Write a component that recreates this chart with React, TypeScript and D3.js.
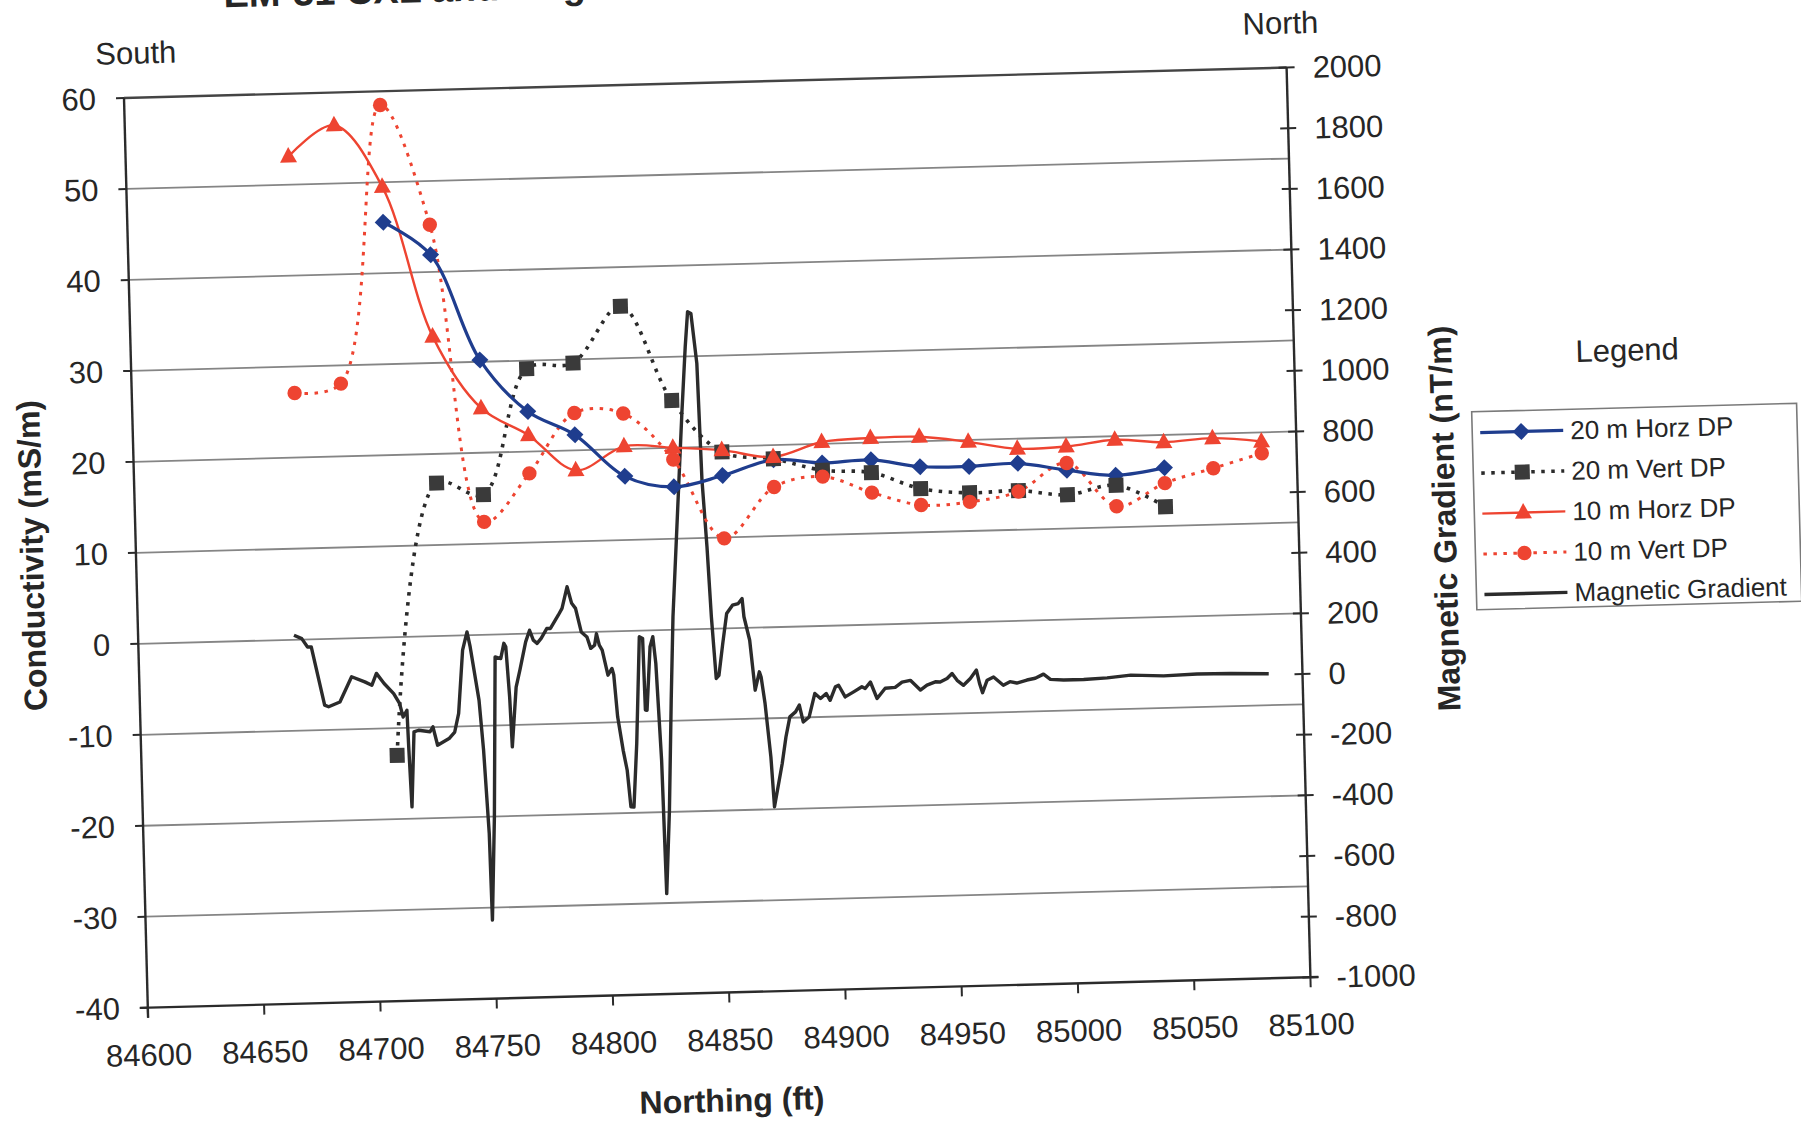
import React from 'react';
import * as d3 from 'd3';

// station positions (Northing, ft) shared by the EM-31 readings
const northing = [84670, 84690, 84710, 84730, 84750, 84770, 84790, 84811, 84832, 84853, 84875, 84896, 84917, 84938, 84959, 84980, 85001, 85022, 85043, 85064, 85085];

// conductivity, mS/m (20 m series start at the third station)
const horz20 = [45.6, 41.9, 30.2, 24.4, 21.7, 17.0, 15.7, 16.8, 18.4, 17.9, 18.1, 17.2, 17.1, 17.3, 16.4, 15.7, 16.4];
const vert20 = [-13.0, 16.8, 15.4, 29.1, 29.6, 35.7, 25.2, 19.4, 18.5, 17.1, 16.7, 14.8, 14.2, 14.3, 13.7, 14.6, 12.1];
const horz10 = [53.1, 56.4, 49.5, 32.9, 24.9, 21.8, 17.8, 20.3, 20.0, 19.6, 18.7, 20.2, 20.5, 20.5, 19.8, 18.9, 19.0, 19.6, 19.2, 19.5, 19.0];
const vert10 = [27.1, 28.0, 58.5, 45.2, 12.4, 17.6, 24.1, 23.9, 18.7, 9.9, 15.4, 16.4, 14.5, 13.0, 13.2, 14.2, 17.2, 12.3, 14.7, 16.2, 17.7];

// magnetic gradient trace, nT/m
const magNorthing = [
  84667.0, 84670.3, 84672.7, 84674.3, 84679.4, 84681.1, 84686.0, 84691.3, 84696.9, 84699.9,
  84702.0, 84705.2, 84709.2, 84711.6, 84713.0, 84714.7, 84715.1, 84715.8, 84717.5, 84719.5,
  84724.4, 84725.7, 84727.5, 84732.5, 84735.0, 84736.9, 84739.3, 84741.4, 84742.6, 84745.8,
  84747.2, 84748.7, 84749.1, 84751.1, 84753.2, 84755.6, 84757.1, 84757.9, 84759.0, 84759.6,
  84761.9, 84763.7, 84766.5, 84768.3, 84769.8, 84771.4, 84773.2, 84775.7, 84777.3, 84780.8,
  84782.5, 84784.9, 84786.7, 84788.3, 84790.5, 84792.9, 84794.4, 84796.1, 84797.0, 84798.1,
  84799.3, 84801.5, 84803.3, 84804.0, 84805.2, 84807.2, 84808.7, 84809.9, 84811.2, 84813.1,
  84815.4, 84816.8, 84817.2, 84817.9, 84819.9, 84821.2, 84822.2, 84823.6, 84824.3, 84826.4,
  84828.4, 84830.1, 84833.2, 84836.2, 84838.4, 84839.8, 84841.2, 84843.2, 84844.1, 84845.5,
  84846.6, 84848.0, 84849.2, 84851.2, 84853.2, 84855.8, 84858.3, 84860.0, 84860.6, 84862.8,
  84864.6, 84866.6, 84867.3, 84868.7, 84870.6, 84871.6, 84875.4, 84877.3, 84879.2, 84881.7,
  84883.4, 84884.9, 84887.5, 84890.2, 84892.6, 84895.1, 84896.7, 84899.1, 84900.5, 84903.2,
  84906.9, 84910.5, 84911.9, 84914.2, 84916.9, 84920.5, 84924.8, 84927.8, 84931.4, 84932.8,
  84935.6, 84938.5, 84942.1, 84944.2, 84947.2, 84949.4, 84951.5, 84954.2, 84957.2, 84959.9,
  84961.1, 84962.3, 84964.4, 84967.2, 84971.3, 84974.2, 84977.1, 84981.5, 84985.1, 84988.7,
  84991.6, 84997.3, 85005.9, 85016.0, 85026.2, 85040.3, 85054.7, 85069.2, 85085.5,
];
const magGradient = [
  215, 203, 175, 175, -18, -24, -9, 73, 55, 43,
  82, 48, 14, -19, -64, -42, -174, -361, -114, -109,
  -115, -99, -160, -139, -118, -57, 151, 211, 161, -15,
  -180, -456, -741, -401, 126, 120, 170, 158, -7, -172,
  25, 80, 173, 211, 178, 167, 183, 215, 215, 258,
  280, 351, 296, 279, 201, 184, 146, 156, 194, 156,
  139, 56, 78, 56, -82, -193, -259, -380, -381, -171,
  180, 174, -62, -63, 146, 179, 91, -229, -669, -394,
  -32, 243, 583, 912, 1132, 1247, 1241, 1076, 691, 470,
  239, 36, 46, 151, 249, 276, 281, 297, 237, 159,
  -6, 54, 37, -51, -227, -392, -250, -163, -97, -81,
  -59, -115, -99, -22, -39, -23, -46, -2, 3, -36,
  -20, -4, -10, 11, -44, -11, -9, 8, 13, 2,
  -20, -4, 6, 5, 16, 32, 9, -8, 14, 41,
  -3, -34, 7, 17, -11, 0, -5, 4, 9, 22,
  4, 1, 1, 4, 11, 6, 9, 8, 4,
];

const xTicks = [84600, 84650, 84700, 84750, 84800, 84850, 84900, 84950, 85000, 85050, 85100];
const leftTicks = [-40, -30, -20, -10, 0, 10, 20, 30, 40, 50, 60];
const rightTicks = [-1000, -800, -600, -400, -200, 0, 200, 400, 600, 800, 1000, 1200, 1400, 1600, 1800, 2000];
const legendLabels = ['20 m Horz DP', '20 m Vert DP', '10 m Horz DP', '10 m Vert DP', 'Magnetic Gradient'];

const W = 1163;
const H = 910;
const BLUE = '#1f3d8e';
const RED = '#ee4431';
const DARK = '#2b2b2b';
const FONT = '"Liberation Sans", Arial, sans-serif';

const diamond = 'M0,-8.5L8.5,0L0,8.5L-8.5,0Z';
const square = 'M-7.5,-7.5H7.5V7.5H-7.5Z';
const triangle = 'M0,-9.5L8.5,6L-8.5,6Z';

const App = () => {
  const x = d3.scaleLinear().domain([84600, 85100]).range([0, W]);
  const yL = d3.scaleLinear().domain([-40, 60]).range([H, 0]);
  const yR = d3.scaleLinear().domain([-1000, 2000]).range([H, 0]);

  const smooth = (xs: number[], ys: number[]) =>
    d3.line<number>()
      .x((_, i) => x(xs[i]))
      .y((d) => yL(d))
      .curve(d3.curveCatmullRom.alpha(0.5))(ys) || '';

  const n20 = northing.slice(2, 19);
  const magPath = d3.line<number>()
    .x((_, i) => x(magNorthing[i]))
    .y((d) => yR(d))(magGradient) || '';

  const txt = { fontFamily: FONT, fill: '#262626' };

  // legend sample rows
  const rowY = (i: number) => 370 + i * 40.5;

  return (
    <svg width={1801} height={1123} style={{ position: 'absolute', left: 0, top: 0, background: '#fff' }}>
      <g transform="translate(124,98) rotate(-1.5)">
        <text x={102} y={-88} style={{ ...txt, fontSize: 38, fontWeight: 700 }}>EM-31 CXL and Mag</text>

        {/* gridlines */}
        {leftTicks.slice(1, -1).map((t) => (
          <line key={t} x1={0} x2={W} y1={yL(t)} y2={yL(t)} stroke="#858585" strokeWidth={1.8} />
        ))}
        <line x1={0} x2={W} y1={0} y2={0} stroke="#444" strokeWidth={2.4} />

        {/* axes */}
        <line x1={0} x2={0} y1={0} y2={H + 10} stroke={DARK} strokeWidth={2.4} />
        <line x1={W} x2={W} y1={0} y2={H} stroke={DARK} strokeWidth={2.4} />
        <line x1={-8} x2={W + 8} y1={H} y2={H} stroke={DARK} strokeWidth={2.4} />

        {leftTicks.map((t) => (
          <g key={t}>
            <line x1={-8} x2={0} y1={yL(t)} y2={yL(t)} stroke={DARK} strokeWidth={2} />
            <text x={-28} y={yL(t) + 11} textAnchor="end" style={{ ...txt, fontSize: 31 }}>{t}</text>
          </g>
        ))}
        {rightTicks.map((t) => (
          <g key={t}>
            <line x1={W - 8} x2={W + 8} y1={yR(t)} y2={yR(t)} stroke={DARK} strokeWidth={2} />
            <text x={W + 26} y={yR(t) + 11} style={{ ...txt, fontSize: 31 }}>{t}</text>
          </g>
        ))}
        {xTicks.map((t) => (
          <g key={t}>
            <line x1={x(t)} x2={x(t)} y1={H} y2={H + 10} stroke={DARK} strokeWidth={2} />
            <text x={x(t)} y={H + 58} textAnchor="middle" style={{ ...txt, fontSize: 31 }}>{t}</text>
          </g>
        ))}

        {/* axis titles */}
        <text transform={`translate(-93,${H / 2}) rotate(-90)`} textAnchor="middle" style={{ ...txt, fontSize: 32, fontWeight: 700 }}>Conductivity (mS/m)</text>
        <text transform={`translate(1320,${H / 2}) rotate(-90)`} textAnchor="middle" style={{ ...txt, fontSize: 32, fontWeight: 700 }}>Magnetic Gradient (nT/m)</text>
        <text x={W / 2} y={H + 119} textAnchor="middle" style={{ ...txt, fontSize: 32, fontWeight: 700 }}>Northing (ft)</text>
        <text x={13} y={-34} textAnchor="middle" style={{ ...txt, fontSize: 31 }}>South</text>
        <text x={1158} y={-34} textAnchor="middle" style={{ ...txt, fontSize: 31 }}>North</text>

        {/* magnetic gradient */}
        <path d={magPath} fill="none" stroke={DARK} strokeWidth={3.4} strokeLinejoin="round" />

        {/* EM-31 series */}
        <path d={smooth(northing, vert10)} fill="none" stroke={RED} strokeWidth={3} strokeDasharray="3.5 6.5" />
        <path d={smooth(n20, vert20)} fill="none" stroke={DARK} strokeWidth={3.6} strokeDasharray="3.5 6.5" />
        <path d={smooth(northing, horz10)} fill="none" stroke={RED} strokeWidth={2.4} />
        <path d={smooth(n20, horz20)} fill="none" stroke={BLUE} strokeWidth={3.2} />

        {n20.map((n, i) => (
          <path key={'hz20' + i} d={diamond} transform={`translate(${x(n)},${yL(horz20[i])})`} fill={BLUE} />
        ))}
        {n20.map((n, i) => (
          <path key={'vt20' + i} d={square} transform={`translate(${x(n)},${yL(vert20[i])})`} fill="#3a3a3a" />
        ))}
        {northing.map((n, i) => (
          <path key={'hz10' + i} d={triangle} transform={`translate(${x(n)},${yL(horz10[i])})`} fill={RED} />
        ))}
        {northing.map((n, i) => (
          <circle key={'vt10' + i} cx={x(n)} cy={yL(vert10[i])} r={7.2} fill={RED} />
        ))}

        {/* legend */}
        <text x={1496} y={302} textAnchor="middle" style={{ ...txt, fontSize: 31 }}>Legend</text>
        <rect x={1339} y={349} width={325} height={198} fill="#fff" stroke="#7a7a7a" strokeWidth={1.6} />
        <line x1={1347} x2={1430} y1={rowY(0)} y2={rowY(0)} stroke={BLUE} strokeWidth={3.2} />
        <path d={diamond} transform={`translate(1388,${rowY(0)})`} fill={BLUE} />
        <line x1={1347} x2={1430} y1={rowY(1)} y2={rowY(1)} stroke={DARK} strokeWidth={3.6} strokeDasharray="3.5 6.5" />
        <path d={square} transform={`translate(1388,${rowY(1)})`} fill="#3a3a3a" />
        <line x1={1347} x2={1430} y1={rowY(2)} y2={rowY(2)} stroke={RED} strokeWidth={2.4} />
        <path d={triangle} transform={`translate(1388,${rowY(2)})`} fill={RED} />
        <line x1={1347} x2={1430} y1={rowY(3)} y2={rowY(3)} stroke={RED} strokeWidth={3} strokeDasharray="3.5 6.5" />
        <circle cx={1388} cy={rowY(3)} r={7.2} fill={RED} />
        <line x1={1347} x2={1430} y1={rowY(4)} y2={rowY(4)} stroke={DARK} strokeWidth={3.4} />
        {legendLabels.map((l, i) => (
          <text key={l} x={1437} y={rowY(i) + 9} style={{ ...txt, fontSize: 26 }}>{l}</text>
        ))}
      </g>
    </svg>
  );
};

export default App;
